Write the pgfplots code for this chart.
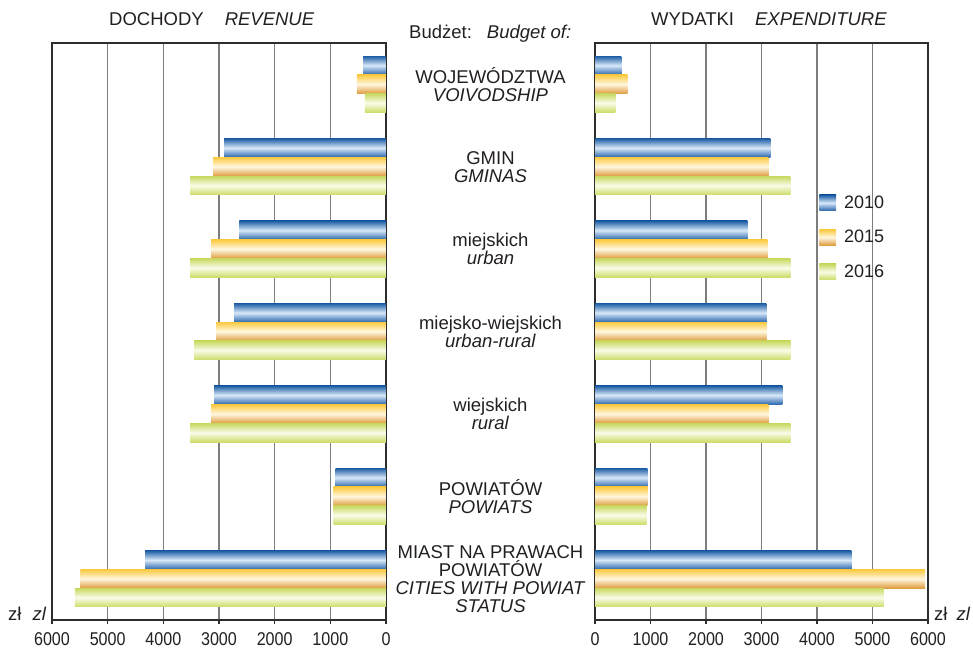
\documentclass[border=0pt]{standalone}
\usepackage{pgfplots}
\pgfplotsset{compat=1.18}
\usepackage{pgfplotstable}
\usepackage{fontspec}
\setmainfont{Liberation Sans}
\newfontfamily\tickfont[FakeStretch=0.87]{Liberation Sans}
\definecolor{textc}{RGB}{35,31,32}
\definecolor{gridc}{RGB}{125,125,125}
\definecolor{axc}{RGB}{45,45,45}
\definecolor{bA}{RGB}{28,92,164}
\definecolor{bB}{RGB}{216,233,249}
\definecolor{bC}{RGB}{42,102,172}
\definecolor{oA}{RGB}{252,202,64}
\definecolor{oB}{RGB}{255,247,224}
\definecolor{oC}{RGB}{222,156,62}
\definecolor{gA}{RGB}{200,216,96}
\definecolor{gB}{RGB}{250,252,232}
\definecolor{gC}{RGB}{205,220,104}
\newcommand\fs{\fontsize{18.5bp}{18bp}\selectfont}
\newcommand\lfs{\fontsize{18bp}{18bp}\selectfont}
\newcommand\tickfs{\tickfont\fontsize{18.5bp}{18.5bp}\selectfont}
\tikzset{
  sA/.style={top color=bA, bottom color=bC, middle color=bB, draw=none},
  sB/.style={top color=oA, bottom color=oC, middle color=oB, draw=none},
  sC/.style={top color=gA, bottom color=gC, middle color=gB, draw=none},
  lab/.style={align=center, font=\fs, text=textc, anchor=center, inner sep=0pt},
}
\pgfplotstableread{
y a b c
0 413 522 378
1 2906 3105 3520
2 2635 3141 3520
3 2726 3051 3448
4 3087 3141 3520
5 903 939 939
6 4327 5487 5590
}\revenue
\pgfplotstableread{
y a b c
0 474 582 366
1 3159 3123 3519
2 2744 3105 3519
3 3087 3087 3519
4 3375 3123 3519
5 942 942 924
6 4618 5946 5207
}\expend
\pgfplotsset{
  half/.style={
    scale only axis, height=577bp,
    ymin=-0.5, ymax=6.5, y dir=reverse, ytick=\empty,
    xmin=0, xmax=6000, xtick={0,1000,...,6000},
    scaled x ticks=false,
    /pgf/number format/1000 sep={},
    /pgf/number format/assume math mode=true,
    xmajorgrids, grid style={gridc, line width=1.6bp},
    axis line style={axc, line width=1.2bp},
    tick style={axc, line width=1.2bp},
    tick align=outside, xtick pos=left, major tick length=4bp,
    xticklabel style={font=\tickfs, text=textc, yshift=-5.5bp},
    clip=false,
  },
}
\begin{document}
\begin{tikzpicture}
\useasboundingbox (0,0) rectangle (973bp,649bp);
% left axis: revenue
\begin{axis}[half, width=334bp, at={(52bp,29bp)}, anchor=south west, x dir=reverse]
\pgfplotsinvokeforeach{0,...,6}{
  \addplot[xbar, bar width=0.228, bar shift=-0.228, sA, forget plot, restrict y to domain=#1:#1] table[x=a, y=y] {\revenue};
  \addplot[xbar, bar width=0.228, bar shift=0, sB, forget plot, restrict y to domain=#1:#1] table[x=b, y=y] {\revenue};
  \addplot[xbar, bar width=0.228, bar shift=0.228, sC, forget plot, restrict y to domain=#1:#1] table[x=c, y=y] {\revenue};
}
\node[lab, xshift=104.5bp] at (axis cs:0,0) {WOJEWÓDZTWA\\\textit{VOIVODSHIP}};
\node[lab, xshift=104.5bp] at (axis cs:0,1) {GMIN\\\textit{GMINAS}};
\node[lab, xshift=104.5bp] at (axis cs:0,2) {miejskich\\\textit{urban}};
\node[lab, xshift=104.5bp] at (axis cs:0,3) {miejsko-wiejskich\\\textit{urban-rural}};
\node[lab, xshift=104.5bp] at (axis cs:0,4) {wiejskich\\\textit{rural}};
\node[lab, xshift=104.5bp] at (axis cs:0,5) {POWIATÓW\\\textit{POWIATS}};
\node[lab, xshift=104.5bp] at (axis cs:0,6) {MIAST NA PRAWACH\\POWIATÓW\\\textit{CITIES WITH POWIAT}\\\textit{STATUS}};
\end{axis}
% right axis: expenditure
\begin{axis}[half, width=333bp, at={(595bp,29bp)}, anchor=south west,
  legend style={at={(0.6736,0.7366)}, anchor=north west, draw=none, fill=none,
    inner sep=0pt, outer sep=0pt, font=\lfs, text=textc, row sep=18.8bp,
    nodes={inner sep=0pt},
    /tikz/every odd column/.append style={column sep=8bp}},
  legend cell align=left]
\pgfplotsinvokeforeach{0,...,6}{
  \addplot[xbar, bar width=0.228, bar shift=-0.228, sA, forget plot, restrict y to domain=#1:#1] table[x=a, y=y] {\expend};
  \addplot[xbar, bar width=0.228, bar shift=0, sB, forget plot, restrict y to domain=#1:#1] table[x=b, y=y] {\expend};
  \addplot[xbar, bar width=0.228, bar shift=0.228, sC, forget plot, restrict y to domain=#1:#1] table[x=c, y=y] {\expend};
}
\addlegendimage{legend image code/.code={\path[sA] (0bp,-7.85bp) rectangle (16.7bp,7.85bp);}}
\addlegendentry{2010}
\addlegendimage{legend image code/.code={\path[sB] (0bp,-7.85bp) rectangle (16.7bp,7.85bp);}}
\addlegendentry{2015}
\addlegendimage{legend image code/.code={\path[sC] (0bp,-7.85bp) rectangle (16.7bp,7.85bp);}}
\addlegendentry{2016}
\end{axis}
% titles
\node[anchor=base west, inner sep=0pt, font=\fs, text=textc] at (109bp,623bp) {DOCHODY\hspace{21bp}\textit{REVENUE}};
\node[anchor=base west, inner sep=0pt, font=\fs, text=textc] at (651bp,623bp) {WYDATKI\hspace{21bp}\textit{EXPENDITURE}};
\node[anchor=base west, inner sep=0pt, font=\fs, text=textc] at (409bp,610bp) {Budżet:\hspace{15bp}\textit{Budget of:}};
\node[anchor=base west, inner sep=0pt, font=\fs, text=textc] at (8bp,29bp) {zł\hspace{11bp}\textit{zl}};
\node[anchor=base west, inner sep=0pt, font=\fs, text=textc] at (934bp,29bp) {zł\hspace{9bp}\textit{zl}};
\end{tikzpicture}
\end{document}
